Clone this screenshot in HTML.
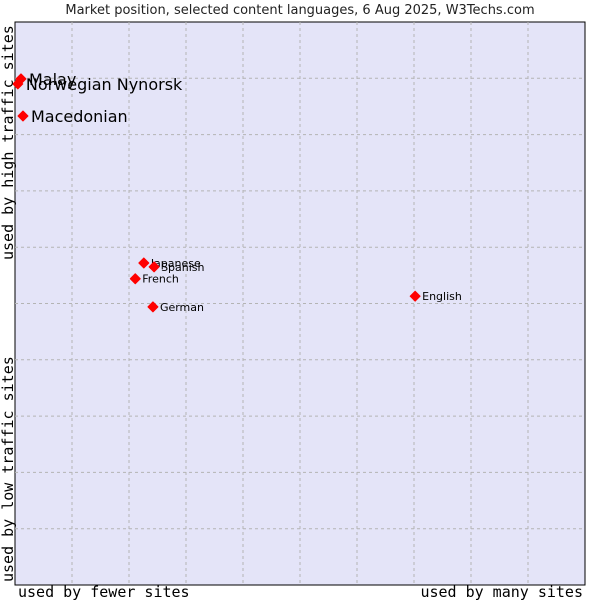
<!DOCTYPE html>
<html><head><meta charset="utf-8"><style>
body{margin:0;background:#fff;width:600px;height:600px;overflow:hidden}
svg text{font-family:"DejaVu Sans","Liberation Sans",sans-serif}
.mono{font-family:"DejaVu Sans Mono","Liberation Mono",monospace}
</style></head><body>
<svg id="chart" width="600" height="600">
<text x="300" y="14" text-anchor="middle" font-size="13" fill="#222">Market position, selected content languages, 6 Aug 2025, W3Techs.com</text>
<rect x="15" y="22" width="570" height="563" fill="#e4e4f8" stroke="#000" stroke-width="1"/>
<g id="grid"></g>
<g id="points"></g>
<text class="mono" x="18" y="597" font-size="15" fill="#000">used by fewer sites</text>
<text class="mono" x="583" y="597" font-size="15" text-anchor="end" fill="#000">used by many sites</text>
<text class="mono" transform="translate(13,260) rotate(-90)" font-size="15" fill="#000">used by high traffic sites</text>
<text class="mono" transform="translate(13,582) rotate(-90)" font-size="15" fill="#000">used by low traffic sites</text>
</svg>
<script>
const languages=["Malay","Norwegian Nynorsk","Macedonian","Japanese","Spanish","French","German","English"];
const siteShare=[1.05,0.5,1.4,22.6,24.4,21.1,24.2,70.2];
const trafficRank=[89.9,89.0,83.3,57.2,56.5,54.4,49.4,51.3];
const labelSizes=[16,16,16,11,11,11,11,11];
const L=15,T=22,W=570,H=563;
function xs(v){return L+v/100*W;}
function ys(v){return T+H-v/100*H;}
const NS="http://www.w3.org/2000/svg";
const grid=document.getElementById('grid');
for(let i=1;i<10;i++){
  const gx=document.createElementNS(NS,'line');
  gx.setAttribute('x1',xs(i*10));gx.setAttribute('x2',xs(i*10));gx.setAttribute('y1',T);gx.setAttribute('y2',T+H);
  gx.setAttribute('stroke','#b4b4b4');gx.setAttribute('stroke-dasharray','3,3');
  
  
  grid.appendChild(gx);
  const gy=document.createElementNS(NS,'line');
  gy.setAttribute('y1',ys(i*10));gy.setAttribute('y2',ys(i*10));gy.setAttribute('x1',L);gy.setAttribute('x2',L+W);
  gy.setAttribute('stroke','#b4b4b4');gy.setAttribute('stroke-dasharray','3,3');
  
  
  grid.appendChild(gy);
}
const pts=document.getElementById('points');
languages.forEach((n,i)=>{
  const cx=xs(siteShare[i]),cy=ys(trafficRank[i]);
  const p=document.createElementNS(NS,'polygon');
  p.setAttribute('points',`${cx},${cy-5} ${cx+5},${cy} ${cx},${cy+5} ${cx-5},${cy}`);
  p.setAttribute('fill','#f00');
  p.setAttribute('stroke','#f00');
  p.setAttribute('stroke-width','1');
  p.setAttribute('stroke-linejoin','round');
  
  
  pts.appendChild(p);
  const t=document.createElementNS(NS,'text');
  t.setAttribute('x',cx+(labelSizes[i]>12?8:7));
  t.setAttribute('y',cy+(labelSizes[i]>12?6:4));
  t.setAttribute('font-size',labelSizes[i]);
  t.setAttribute('fill','#000');
  t.textContent=n;
  
  
  pts.appendChild(t);
});
</script>
</body></html>
